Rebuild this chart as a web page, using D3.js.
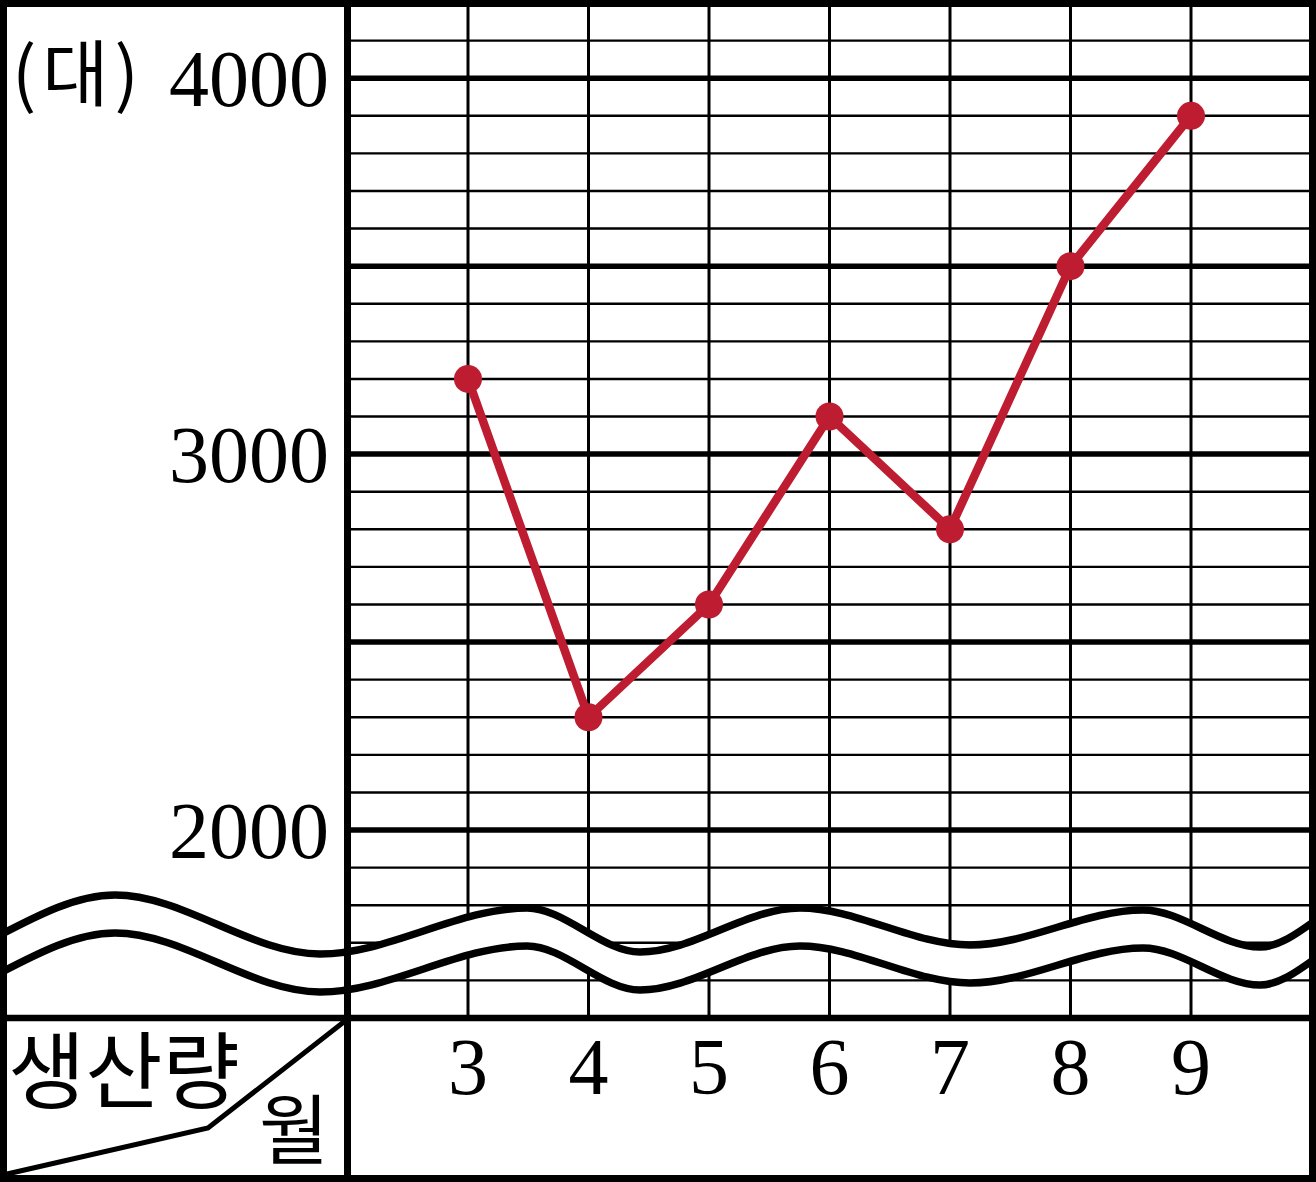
<!DOCTYPE html>
<html><head><meta charset="utf-8">
<script src="https://cdn.jsdelivr.net/npm/d3@7"></script>
<style>body{margin:0;background:#fff}svg{display:block}</style>
</head><body>
<script>
const months = [3, 4, 5, 6, 7, 8, 9];
const production = [3200, 2300, 2600, 3100, 2800, 3500, 3900];
const yTickLabels = [2000, 3000, 4000];
const unitLabel = "(대)";
const rowHeader = "생산량";
const colHeader = "월";

const W = 1316, H = 1182;
const svg = d3.select("body").append("svg").attr("width", W).attr("height", H);

const x = d3.scaleLinear().domain([2, 10]).range([347.5, 1311.5]);
const y = d3.scaleLinear().domain([1500, 4200]).range([1018, 3]);

svg.append("rect").attr("width", W).attr("height", H).attr("fill", "#fff");

// horizontal grid
const hvals = d3.range(1600, 4200, 100);
svg.append("g").selectAll("line").data(hvals).join("line")
  .attr("x1", 348).attr("x2", 1312)
  .attr("y1", d => y(d)).attr("y2", d => y(d))
  .attr("stroke", "#000")
  .attr("stroke-width", d => d % 500 === 0 ? 5.5 : 2.4);

// vertical grid
svg.append("g").selectAll("line").data(months).join("line")
  .attr("x1", d => x(d)).attr("x2", d => x(d))
  .attr("y1", 3).attr("y2", 1018)
  .attr("stroke", "#000").attr("stroke-width", 3);

// y labels
svg.append("g").selectAll("text").data(yTickLabels).join("text")
  .attr("x", 329).attr("y", d => y(d) + 28)
  .attr("text-anchor", "end")
  .attr("font-family", "'Liberation Serif', 'DejaVu Serif', serif")
  .attr("font-size", 80)
  .text(d => d);

svg.append("text").attr("x", 12).attr("y", 100)
  .attr("font-family", "'Noto Sans CJK KR', sans-serif")
  .attr("font-size", 72).attr("letter-spacing", 6).text(unitLabel);

// wavy break
const waveTop = [[0, 935], [115, 895], [320, 954], [527, 908], [640, 952], [800, 908], [970, 945], [1143, 910], [1260, 947], [1316, 920]];
const gap = 38;
const waveBot = waveTop.map(p => [p[0], p[1] + gap]);
const lineGen = d3.line().curve(d3.curveMonotoneX);
const area = d3.area().curve(d3.curveMonotoneX)
  .x(d => d[0]).y0(d => d[1]).y1(d => d[1] + gap);
svg.append("path").attr("d", area(waveTop)).attr("fill", "#fff");
svg.append("path").attr("d", lineGen(waveTop)).attr("fill", "none").attr("stroke", "#000").attr("stroke-width", 7.5);
svg.append("path").attr("d", lineGen(waveBot)).attr("fill", "none").attr("stroke", "#000").attr("stroke-width", 7.5);

// data line
const red = "#be1c30";
svg.append("path").datum(months.map((m, i) => [m, production[i]]))
  .attr("d", d3.line().x(d => x(d[0])).y(d => y(d[1])))
  .attr("fill", "none").attr("stroke", red).attr("stroke-width", 8.5).attr("stroke-linejoin", "round");
svg.append("g").selectAll("circle").data(months).join("circle")
  .attr("cx", d => x(d)).attr("cy", (d, i) => y(production[i]))
  .attr("r", 14).attr("fill", red);

// structure lines
const frame = svg.append("g").attr("stroke", "#000").attr("fill", "none");
frame.append("line").attr("x1", 0).attr("x2", W).attr("y1", 1018).attr("y2", 1018).attr("stroke-width", 6.5);
frame.append("line").attr("x1", 347.5).attr("x2", 347.5).attr("y1", 0).attr("y2", H).attr("stroke-width", 7);
frame.append("rect").attr("x", 3.5).attr("y", 3.5).attr("width", W - 7).attr("height", H - 7).attr("stroke-width", 7);
frame.append("path").attr("d", "M345,1021 L208,1128 L7,1174").attr("stroke-width", 5).attr("stroke-linejoin", "miter");

// month labels
svg.append("g").selectAll("text").data(months).join("text")
  .attr("x", d => x(d)).attr("y", 1094)
  .attr("text-anchor", "middle")
  .attr("font-family", "'Liberation Serif', 'DejaVu Serif', serif")
  .attr("font-size", 80)
  .text(d => d);

svg.append("text").attr("x", 8).attr("y", 1102)
  .attr("font-family", "'Noto Sans CJK KR', sans-serif")
  .attr("font-size", 84).text(rowHeader);
svg.append("text").attr("x", 259).attr("y", 1158)
  .attr("font-family", "'Noto Sans CJK KR', sans-serif")
  .attr("font-size", 76).text(colHeader);
</script>
</body></html>
